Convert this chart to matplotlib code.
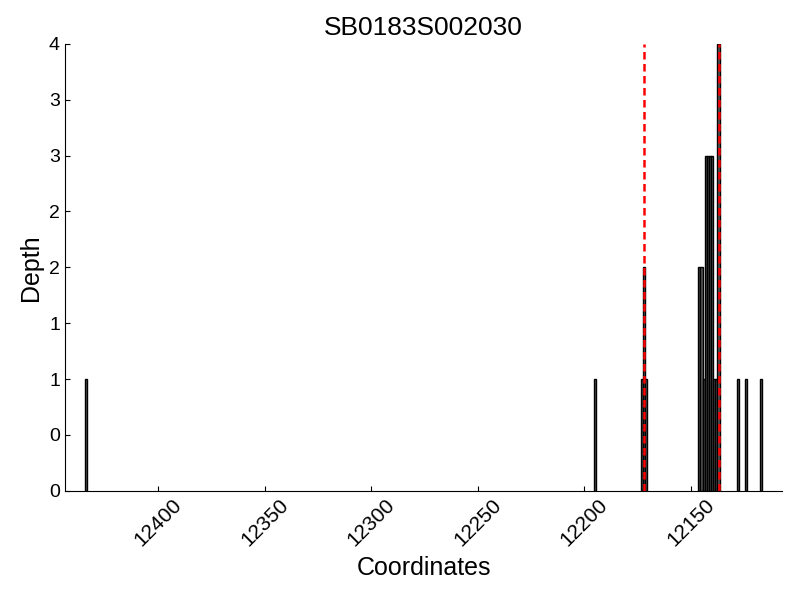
import matplotlib
matplotlib.use("Agg")
import matplotlib.pyplot as plt
from matplotlib.ticker import FormatStrFormatter, MultipleLocator

plt.rcParams["font.family"] = ["Liberation Sans", "DejaVu Sans"]

title = "SB0183S002030"
positions = [12434, 12195, 12173, 12172, 12171,
             12146, 12145, 12144, 12143, 12142, 12141, 12140, 12139,
             12138, 12137, 12128, 12124, 12117]
depths = [1, 1, 1, 2, 1,
          2, 2, 1, 3, 3, 3, 3, 1,
          1, 4, 1, 1, 1]
marks = [12172, 12137]

fig = plt.figure(figsize=(8, 6), dpi=100)
ax = fig.add_axes([0.081, 0.182, 0.897, 0.745])

ax.bar(positions, depths, width=1, color="0.35", edgecolor="black", linewidth=1)
ax.vlines(marks, 0, max(depths), colors="red", linewidth=1.8,
          linestyles=[(0, (3, 1.8))])

ax.set_xlim(12444, 12107)
ax.set_ylim(0, 4)
ax.xaxis.set_major_locator(MultipleLocator(50))
ax.yaxis.set_major_locator(MultipleLocator(0.5))
ax.yaxis.set_major_formatter(FormatStrFormatter("%d"))

ax.spines["top"].set_visible(False)
ax.spines["right"].set_visible(False)
ax.tick_params(direction="in", labelsize=14, top=False, right=False)
ax.tick_params(axis="x", labelsize=15)
plt.setp(ax.get_xticklabels(), rotation=45)

ax.set_title(title, fontsize=19)
ax.set_xlabel("Coordinates", fontsize=18)
ax.set_ylabel("Depth", fontsize=18)

fig.savefig("out.png", dpi=100)
